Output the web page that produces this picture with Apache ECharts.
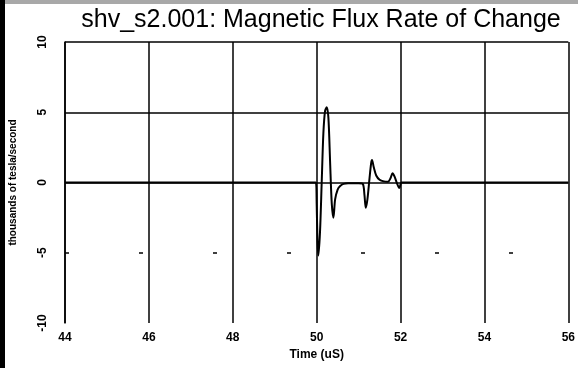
<!DOCTYPE html>
<html>
<head>
<meta charset="utf-8">
<script src="https://cdn.jsdelivr.net/npm/echarts@6/dist/echarts.min.js"></script>
<style>
  html, body { margin: 0; padding: 0; background: #fff; }
  #chart { width: 578px; height: 368px; }
</style>
</head>
<body>
<div id="chart"></div>
<script>
// time in microseconds and flux rate in thousands of tesla/second
const times = [44, 49.98, 50.0, 50.02, 50.04, 50.08, 50.12, 50.16, 50.2, 50.24, 50.28, 50.32,
  50.36, 50.4, 50.44, 50.5, 50.56, 50.64, 50.75, 51.0, 51.1, 51.14, 51.17, 51.21, 51.26,
  51.3, 51.32, 51.36, 51.42, 51.5, 51.6, 51.7, 51.76, 51.81, 51.86, 51.92, 51.97, 52.02, 52.06, 56];
const flux = [0, 0, -1.5, -4.2, -5.2, -3.5, 0, 3.5, 5.1, 5.35, 4.6, 1.5,
  -1.5, -2.5, -1.2, -0.5, -0.25, -0.1, -0.05, -0.05, -0.1, -0.9, -1.8, -1.2, 0.3,
  1.4, 1.6, 1.1, 0.5, 0.2, 0.08, 0.05, 0.3, 0.66, 0.4, -0.1, -0.4, 0, 0, 0];
const xTicks = [44, 56, 2];
const yTicks = [-10, 10, 5];

const points = times.map((t, i) => [t, flux[i]]);

const option = {
  animation: false,
  backgroundColor: '#fff',
  textStyle: { fontFamily: 'Liberation Sans' },
  title: {
    text: 'shv_s2.001: Magnetic Flux Rate of Change',
    left: 316,
    textAlign: 'center',
    top: 3,
    textStyle: { fontSize: 25, fontWeight: 'normal', color: '#000', fontFamily: 'Liberation Sans' }
  },
  graphic: [
    { type: 'rect', shape: { x: 0, y: 0, width: 5, height: 368 }, style: { fill: '#000' } },
    { type: 'rect', shape: { x: 5, y: 0, width: 573, height: 4 }, style: { fill: '#a8a8a8' } }
  ],
  grid: { left: 62, right: 6, top: 42, bottom: 45 },
  xAxis: {
    type: 'value',
    min: xTicks[0],
    max: xTicks[1],
    interval: xTicks[2],
    name: 'Time (uS)',
    nameLocation: 'middle',
    nameGap: 26,
    nameTextStyle: { fontSize: 12, fontWeight: 'bold', color: '#000' },
    axisLine: { show: false },
    axisTick: { show: false },
    axisLabel: { margin: 9, fontSize: 12, fontWeight: 'bold', color: '#000' },
    splitLine: { show: true, lineStyle: { color: '#000', width: 1.5 } }
  },
  yAxis: {
    type: 'value',
    min: yTicks[0],
    max: yTicks[1],
    interval: yTicks[2],
    name: 'thousands of tesla/second',
    nameLocation: 'middle',
    nameGap: 47,
    nameTextStyle: { fontSize: 10, fontWeight: 'bold', color: '#000' },
    axisLine: { show: true, lineStyle: { color: '#000', width: 1.5 } },
    axisTick: { show: false },
    axisLabel: { rotate: 90, margin: 16, fontSize: 12, fontWeight: 'bold', color: '#000' },
    splitLine: {
      show: true,
      lineStyle: { color: ['rgba(0,0,0,0)', 'rgba(0,0,0,0)', '#000', '#000', '#000'], width: 1.5 }
    }
  },
  series: [
    {
      type: 'line',
      data: points,
      showSymbol: false,
      smooth: 0.3,
      lineStyle: { color: '#000', width: 2 },
      markLine: {
        silent: true,
        symbol: 'none',
        label: { show: false },
        lineStyle: { color: '#000', width: 1.5, type: [4, 70] },
        data: [{ yAxis: -5 }]
      }
    }
  ]
};

const myChart = echarts.init(document.getElementById('chart'));
myChart.setOption(option);
window.addEventListener('resize', function () {
  myChart.resize();
});
</script>
</body>
</html>
